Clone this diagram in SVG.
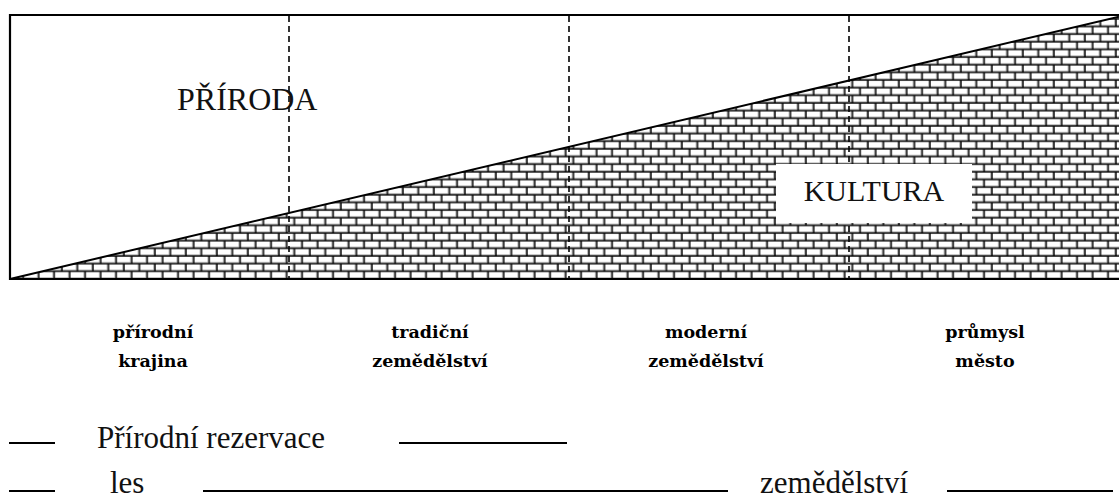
<svg xmlns="http://www.w3.org/2000/svg" width="1119" height="495" viewBox="0 0 1119 495">
  <style>
    .frame { fill: none; stroke: #000; stroke-width: 2.2; }
    .edge { stroke: #000; stroke-width: 2; fill: none; }
    .dash { stroke: #000; stroke-width: 1.6; stroke-dasharray: 6 4; fill: none; }
    .big { font-family: "Liberation Serif", "Times New Roman", serif; font-size: 30px; fill: #111; }
    .stage { font-family: "DejaVu Serif", serif; font-weight: bold; font-size: 17.5px; fill: #000; text-anchor: middle; }
    .legend { font-family: "Liberation Serif", "Times New Roman", serif; font-size: 31px; fill: #111; }
    .rule { stroke: #000; stroke-width: 2; }
  </style>
  <defs>
    <!-- brick wall: two courses of 7.65px, bricks 15.5px long, half-offset -->
    <pattern id="bricks" patternUnits="userSpaceOnUse" x="0" y="279" width="15.5" height="15.3">
      <rect width="15.5" height="15.3" fill="#fff"/>
      <g stroke="#9a9a9a" stroke-width="1">
        <line x1="0" y1="6.6" x2="15.5" y2="6.6"/>
        <line x1="0" y1="14.25" x2="15.5" y2="14.25"/>
        <line x1="14.4" y1="0" x2="14.4" y2="7.65"/>
        <line x1="6.65" y1="7.65" x2="6.65" y2="15.3"/>
      </g>
      <g stroke="#000" stroke-width="1.4">
        <line x1="0" y1="0" x2="15.5" y2="0"/>
        <line x1="0" y1="7.65" x2="15.5" y2="7.65"/>
        <line x1="0" y1="15.3" x2="15.5" y2="15.3"/>
        <line x1="0" y1="0" x2="0" y2="7.65"/>
        <line x1="15.5" y1="0" x2="15.5" y2="7.65"/>
        <line x1="7.75" y1="7.65" x2="7.75" y2="15.3"/>
      </g>
    </pattern>
  </defs>

  <rect width="1119" height="495" fill="#fff"/>

  <!-- culture wedge filled with brickwork -->
  <g id="kultura-wedge">
    <polygon points="10,279 1119,16.7 1119,279" fill="url(#bricks)"/>
    <line class="edge" x1="10" y1="279" x2="1119" y2="16.7"/>
  </g>

  <!-- outer frame (open on the right) -->
  <g id="frame">
    <polyline class="frame" points="1121,15 10,15 10,279 1121,279"/>
  </g>

  <!-- stage boundaries -->
  <g id="connectors">
    <line class="dash" x1="289" y1="16" x2="289" y2="278"/>
    <line class="dash" x1="569" y1="16" x2="569" y2="278"/>
    <line class="dash" x1="849" y1="16" x2="849" y2="278"/>
  </g>

  <g id="priroda">
    <text class="big" x="177" y="110" style="font-size:32px">PŘÍRODA</text>
  </g>

  <g id="kultura">
    <rect x="776" y="164" width="196" height="59" fill="#fff"/>
    <text class="big" x="874" y="201" text-anchor="middle">KULTURA</text>
  </g>

  <g id="stage-1">
    <text class="stage" x="153" y="338">přírodní</text>
    <text class="stage" x="153" y="367">krajina</text>
  </g>
  <g id="stage-2">
    <text class="stage" x="430" y="338">tradiční</text>
    <text class="stage" x="430" y="367">zemědělství</text>
  </g>
  <g id="stage-3">
    <text class="stage" x="706" y="338">moderní</text>
    <text class="stage" x="706" y="367">zemědělství</text>
  </g>
  <g id="stage-4">
    <text class="stage" x="985" y="338">průmysl</text>
    <text class="stage" x="985" y="367">město</text>
  </g>

  <g id="legend">
    <line class="rule" x1="9" y1="443" x2="55" y2="443"/>
    <text class="legend" x="97" y="448">Přírodní rezervace</text>
    <line class="rule" x1="399" y1="443" x2="567" y2="443"/>

    <line class="rule" x1="9" y1="491" x2="55" y2="491"/>
    <text class="legend" x="110" y="493">les</text>
    <line class="rule" x1="203" y1="491" x2="728" y2="491"/>
    <text class="legend" x="760" y="493">zemědělství</text>
    <line class="rule" x1="947" y1="491" x2="1113" y2="491"/>
  </g>
</svg>
